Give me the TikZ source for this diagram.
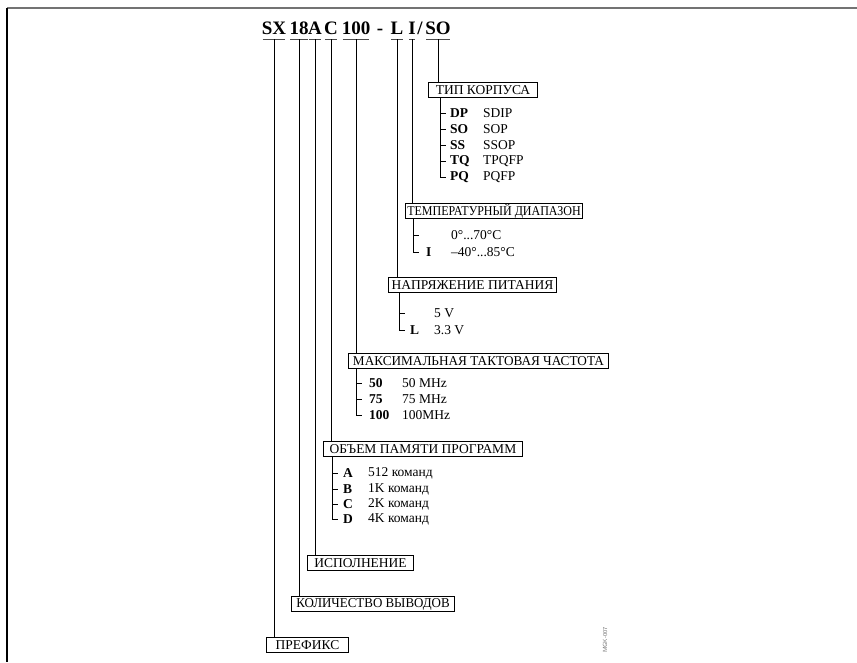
\documentclass[tikz,border=0pt]{standalone}
\usepackage{graphicx}
\usepackage{fontspec}
\setmainfont{Liberation Serif}
\begin{document}
\begin{tikzpicture}[x=1pt,y=-1pt,
  ttl/.style={inner sep=0pt,anchor=base,font=\fontsize{19}{19}\selectfont\bfseries},
  lbl/.style={draw,line width=1pt,anchor=north west,inner xsep=1pt,inner ysep=0pt,minimum height=15pt,font=\fontsize{13.5}{13.5}\selectfont},
  code/.style={inner sep=0pt,anchor=west,font=\fontsize{13.5}{13.5}\selectfont\bfseries},
  desc/.style={inner sep=0pt,anchor=west,font=\fontsize{13.5}{13.5}\selectfont},
  ln/.style={line width=0.8pt},
  uline/.style={line width=1pt,black!70}]
\useasboundingbox (0,0) rectangle (857,662);
% frame
\draw[line width=1.6pt,black!55] (7,8) -- (857,8);
\draw[line width=1.2pt] (7,8) -- (7,662);
% title
\node[ttl] (sx) at (274,34) {SX};
\node[ttl] (n18) at (299,34) {18};
\node[ttl] (a) at (315,34) {A};
\node[ttl] (c) at (331,34) {C};
\node[ttl] (n100) at (356,34) {100};
\node[ttl] (dash) at (380,34) {-};
\node[ttl] (l) at (397,34) {L};
\node[ttl] (i) at (412,34) {I};
\node[ttl] (sl) at (420,34) {/};
\node[ttl] (so) at (438,34) {SO};
\foreach \n in {sx,n18,a,c,n100,l,i,so}
  \draw[uline] ([yshift=-5pt,xshift=1pt]\n.base west) -- ([yshift=-5pt,xshift=-1pt]\n.base east);
% boxes
\node[lbl,minimum width=109pt] (typ) at (428,82) {ТИП КОРПУСА};
\node[lbl,minimum width=177pt] (temp) at (405,203) {\scalebox{0.89}[1]{ТЕМПЕРАТУРНЫЙ ДИАПАЗОН}};
\node[lbl,minimum width=168pt] (volt) at (388,277) {НАПРЯЖЕНИЕ ПИТАНИЯ};
\node[lbl,minimum width=260pt] (freq) at (348,353) {\scalebox{0.98}[1]{МАКСИМАЛЬНАЯ ТАКТОВАЯ ЧАСТОТА}};
\node[lbl,minimum width=199pt] (mem) at (323,441) {ОБЪЕМ ПАМЯТИ ПРОГРАММ};
\node[lbl,minimum width=106pt] (isp) at (307,555) {ИСПОЛНЕНИЕ};
\node[lbl,minimum width=163pt] (kol) at (291,596) {\scalebox{0.96}[1]{КОЛИЧЕСТВО ВЫВОДОВ}};
\node[lbl,minimum width=82pt] (pref) at (266,637) {ПРЕФИКС};
% connectors from title
\draw[ln] ([yshift=-5pt]sx.base) -- (sx.base |- pref.north);
\draw[ln] ([yshift=-5pt]n18.base) -- (n18.base |- kol.north);
\draw[ln] ([yshift=-5pt]a.base) -- (a.base |- isp.north);
\draw[ln] ([yshift=-5pt]c.base) -- (c.base |- mem.north);
\draw[ln] ([yshift=-5pt]n100.base) -- (n100.base |- freq.north);
\draw[ln] ([yshift=-5pt]l.base) -- (l.base |- volt.north);
\draw[ln] ([yshift=-5pt]i.base) -- (i.base |- temp.north);
\draw[ln] ([yshift=-5pt]so.base) -- (so.base |- typ.north);
% list: typ
\coordinate (t1) at (440,113); \coordinate (t2) at (440,129); \coordinate (t3) at (440,145);
\coordinate (t4) at (440,161); \coordinate (t5) at (440,177);
\draw[ln] (typ.south -| t5) -- (t5) -- ++(6,0);
\foreach \k in {1,2,3,4} \draw[ln] (t\k) -- ++(6,0);
\node[code] (tc1) at (450,113) {DP}; \node[desc] (td1) at (483,113) {SDIP};
\node[code] (tc2) at (450,129) {SO}; \node[desc] (td2) at (483,129) {SOP};
\node[code] (tc3) at (450,145) {SS}; \node[desc] (td3) at (483,145) {SSOP};
\node[code] (tc4) at (450,161) {TQ}; \node[desc] (td4) at (483,161) {TPQFP};
\node[code] (tc5) at (450,177) {PQ}; \node[desc] (td5) at (483,177) {PQFP};
% list: temp
\coordinate (e1) at (413,235); \coordinate (e2) at (413,252);
\draw[ln] (temp.south -| e2) -- (e2) -- ++(6,0);
\draw[ln] (e1) -- ++(6,0);
\node[desc] (ed1) at (451,235) {0°...70°C};
\node[code] (ec2) at (426,252) {I}; \node[desc] (ed2) at (451,252) {–40°...85°C};
% list: volt
\coordinate (v1) at (399,313); \coordinate (v2) at (399,330);
\draw[ln] (volt.south -| v2) -- (v2) -- ++(6,0);
\draw[ln] (v1) -- ++(6,0);
\node[desc] (vd1) at (434,313) {5 V};
\node[code] (vc2) at (410,330) {L}; \node[desc] (vd2) at (434,330) {3.3 V};
% list: freq
\coordinate (f1) at (356,383); \coordinate (f2) at (356,399); \coordinate (f3) at (356,415);
\draw[ln] (freq.south -| f3) -- (f3) -- ++(6,0);
\foreach \k in {1,2} \draw[ln] (f\k) -- ++(6,0);
\node[code] (fc1) at (369,383) {50}; \node[desc] (fd1) at (402,383) {50 MHz};
\node[code] (fc2) at (369,399) {75}; \node[desc] (fd2) at (402,399) {75 MHz};
\node[code] (fc3) at (369,415) {100}; \node[desc] (fd3) at (402,415) {100MHz};
% list: mem
\coordinate (m1) at (332,473); \coordinate (m2) at (332,489); \coordinate (m3) at (332,504); \coordinate (m4) at (332,519);
\draw[ln] (mem.south -| m4) -- (m4) -- ++(6,0);
\foreach \k in {1,2,3} \draw[ln] (m\k) -- ++(6,0);
\node[code] (mc1) at (343,473) {A}; \node[desc] (md1) at (368,473) {512 команд};
\node[code] (mc2) at (343,489) {B}; \node[desc] (md2) at (368,489) {1K команд};
\node[code] (mc3) at (343,504) {C}; \node[desc] (md3) at (368,504) {2K команд};
\node[code] (mc4) at (343,519) {D}; \node[desc] (md4) at (368,519) {4K команд};
% small id
\node[rotate=90,inner sep=0pt,text=black!55,font=\fontsize{6}{6}\selectfont\sffamily] (id) at (605,640) {MGK-007};
\end{tikzpicture}
\end{document}
